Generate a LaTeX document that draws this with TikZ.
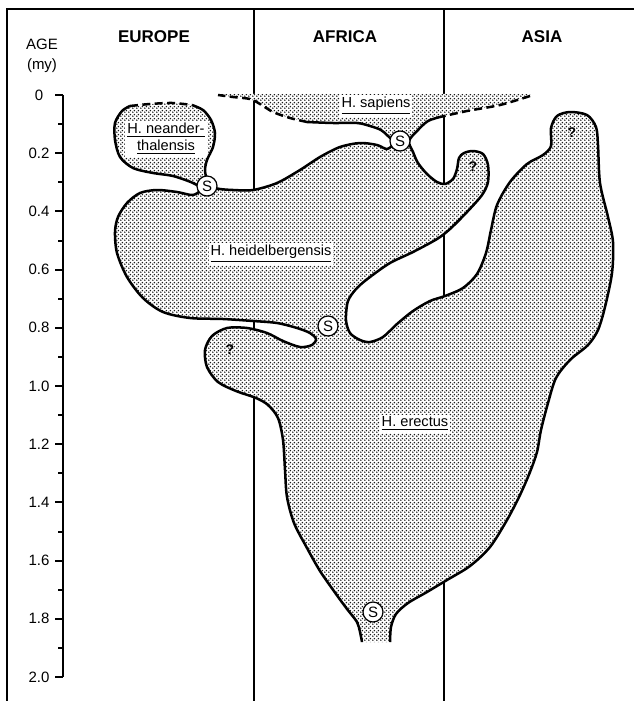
\documentclass[tikz,border=0pt]{standalone}
\usepackage{fontspec}
\setmainfont{Liberation Sans}
\usetikzlibrary{positioning, patterns}
\pgfdeclarepatternformonly{stipple}{\pgfqpoint{0pt}{0pt}}{\pgfqpoint{2pt}{2pt}}{\pgfqpoint{2pt}{2pt}}{%
  \pgfpathcircle{\pgfqpoint{0.5pt}{0.5pt}}{0.5pt}
  \pgfpathcircle{\pgfqpoint{1.5pt}{1.5pt}}{0.5pt}
  \pgfusepath{fill}
}
\tikzset{
  frameline/.style={line width=0.7pt},
  axisline/.style={line width=1pt},
  outline/.style={line width=1.25pt, line join=round},
  unsure/.style={outline, dash pattern=on 4pt off 2.2pt},
  stipplefill/.style={pattern=stipple, pattern color=black!90, preaction={fill=white}},
  taxon/.style={fill=white, inner sep=1pt, align=center,
    font=\fontsize{7.3}{8.6}\selectfont},
  split/.style={circle, draw, fill=white, line width=0.6pt, minimum size=10pt,
    inner sep=0pt, font=\fontsize{7.5}{8}\selectfont},
  query/.style={font=\bfseries\fontsize{7}{8}\selectfont},
  region/.style={font=\bfseries\fontsize{8.5}{10}\selectfont},
  agelabel/.style={font=\fontsize{7.5}{8.5}\selectfont}
}
\newcommand\sapright{-- plot[smooth] coordinates {(530,96) (500,105) (467,111) (440,117)}}
\newcommand\eastedge{-- plot[smooth] coordinates {(440,117) (428,121) (418,130)
  (409,141) (413,152) (418,163) (427,174) (437,182) (445,184) (453,179) (457,169)
  (459,158) (464,153) (473,151) (483,154) (488,165) (488,182) (482,195) (467,212)
  (450,229) (437,239) (413,252) (390,263) (370,277) (357,288) (348,301) (346,320)
  (350,333) (360,340) (370,342) (383,337) (397,324) (413,311) (430,301) (445,296)
  (463,288) (477,274) (486,253) (491,230) (497,205) (510,182) (527,164) (543,155)
  (551,146) (551,128) (557,116) (570,112) (587,115) (596,127) (598,145) (600,183)
  (608,217) (613,242) (612,273) (605,307) (598,330) (588,345) (570,360) (556,378)
  (548,403) (541,430) (537,452) (530,472) (520,495) (507,520) (490,547) (470,566)
  (447,580) (427,592) (408,603) (396,614) (391,627) (390,642)}}
\newcommand\westedge{-- plot[smooth] coordinates {(362,642) (360,632) (357,622)
  (347,609) (336,594) (320,571) (307,548) (294,523) (287,497) (285,470) (283,440)
  (278,418) (268,405) (256,398) (236,391) (218,382) (207,367) (205,350) (212,336)
  (227,328) (247,328) (267,333) (283,341) (300,347) (312,345) (316,339) (310,333)
  (297,328) (277,323) (253,321) (223,319) (190,318) (163,312) (143,298) (127,277)
  (117,253) (115,232) (118,217) (127,203) (140,193) (157,190) (177,192) (193,195)
  (201,189) (193,183) (173,176) (153,173) (133,168) (120,157) (115,140) (115,123)
  (122,111) (130,106)}}
\newcommand\neatop{-- plot[smooth] coordinates {(130,106) (150,104) (172,103) (192,105)}}
\newcommand\midedge{-- plot[smooth] coordinates {(192,105) (203,110) (211,120)
  (215,133) (213,147) (207,160) (205,170) (207,179) (213,187) (220,189) (233,190)
  (253,190) (277,183) (300,170) (320,157) (340,147) (360,143) (377,145) (387,149)
  (394,143) (388,136) (381,130) (370,126) (357,123) (333,123) (307,122)}}
\newcommand\sapleft{-- plot[smooth] coordinates {(307,122) (290,118) (273,112)
  (260,104) (250,99) (233,97) (218,95)}}

\begin{document}
\begin{tikzpicture}[x=0.5pt, y=-0.5pt]
  \useasboundingbox (0,0) rectangle (634,701);
  \draw[frameline] (7,701) -- (7,9) -- (634,9);
  \draw[frameline] (254,9) -- (254,701);
  \draw[frameline] (444,9) -- (444,701);
  \node[region] (europe) at (154,37) {EUROPE};
  \node[region] (africa) at (345,37) {AFRICA};
  \node[region] (asia) at (542,37) {ASIA};
  \node[agelabel] (age) at (42,44) {AGE};
  \node[agelabel, below=-2.5pt of age] (my) {(my)};
  \draw[axisline] (63,95) -- (63,677);
  \foreach \i/\lab in {0/0, 1/0.2, 2/0.4, 3/0.6, 4/0.8, 5/1.0, 6/1.2, 7/1.4, 8/1.6, 9/1.8, 10/2.0} {
    \draw[axisline] (55,95+58.2*\i) -- (63,95+58.2*\i);
    \node[agelabel] (tick\i) at (39,95+58.2*\i) {\lab};
  }
  \foreach \i in {0,...,9}
    \draw[axisline] (58,124.1+58.2*\i) -- (63,124.1+58.2*\i);
  \fill[stipplefill] (218,94) -- (530,94) \sapright \eastedge \westedge
    \neatop \midedge \sapleft -- cycle;
  \draw[unsure] (530,96) \sapright;
  \draw[outline] (440,117) \eastedge;
  \draw[outline] (362,642) \westedge;
  \draw[unsure] (130,106) \neatop;
  \draw[outline] (192,105) \midedge;
  \draw[unsure] (307,122) \sapleft;
  \node[taxon] (sapiens) at (376,106) {\underline{H. sapiens}};
  \node[taxon] (neander) at (166,139) {\underline{H. neander-}\\\underline{thalensis}};
  \node[taxon] (heidel) at (271,254) {\underline{H. heidelbergensis}};
  \node[taxon] (erectus) at (415,424) {\underline{H. erectus}};
  \node[split] (s1) at (207,186) {S};
  \node[split] (s2) at (400,141) {S};
  \node[split] (s3) at (328,326) {S};
  \node[split] (s4) at (373,612) {S};
  \node[query] (q1) at (230,350) {?};
  \node[query] (q2) at (473,167) {?};
  \node[query] (q3) at (572,133) {?};
\end{tikzpicture}
\end{document}
